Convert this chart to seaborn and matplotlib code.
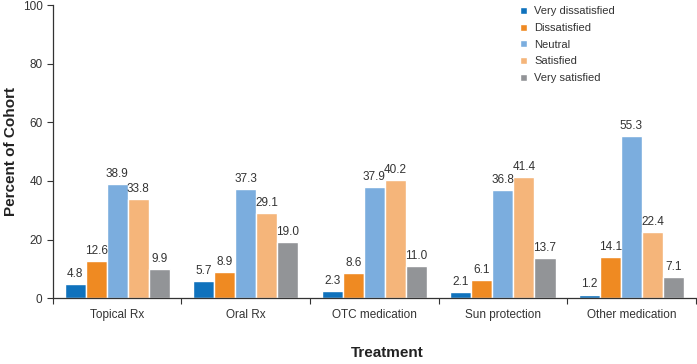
import numpy as np
import pandas as pd
import seaborn as sns
import matplotlib.pyplot as plt
plt.switch_backend('agg')

### data
treatments = ["Topical Rx", "Oral Rx", "OTC medication", "Sun protection", "Other medication"]
levels = ["Very dissatisfied", "Dissatisfied", "Neutral", "Satisfied", "Very satisfied"]
very_dissatisfied = [4.8, 5.7, 2.3, 2.1, 1.2]
dissatisfied = [12.6, 8.9, 8.6, 6.1, 14.1]
neutral = [38.9, 37.3, 37.9, 36.8, 55.3]
satisfied = [33.8, 29.1, 40.2, 41.4, 22.4]
very_satisfied = [9.9, 19.0, 11.0, 13.7, 7.1]
colors = ["#0F72BD", "#EF8A22", "#7BADDE", "#F5B57A", "#929497"]

series = [very_dissatisfied, dissatisfied, neutral, satisfied, very_satisfied]
rows = []
for lev, vals in zip(levels, series):
	for t, v in zip(treatments, vals):
		rows.append({"Treatment": t, "Level": lev, "Percent": v})
df = pd.DataFrame(rows)

sns.set_style("white")
plt.rcParams['font.family'] = ['Liberation Sans', 'DejaVu Sans']

fig = plt.figure(figsize=(6.97, 3.64), dpi=100)
ax = fig.add_axes([0.076, 0.181, 0.922, 0.805])

sns.barplot(data=df, x="Treatment", y="Percent", hue="Level", order=treatments,
	hue_order=levels, palette=colors, width=0.82, gap=0.0, saturation=1,
	errorbar=None, ax=ax, legend=True)

for cont in ax.containers:
	ax.bar_label(cont, fmt="%.1f", padding=3, fontsize=8.5, color="#333333")

ax.set_ylim(0, 100)
ax.set_xlim(-0.5, len(treatments) - 0.5)
ax.set_yticks(np.arange(0, 101, 20))
ax.tick_params(axis='y', which='major', direction='out', length=4, width=0.8,
	left=True, labelsize=8.5, labelcolor="#333333", color="#333333")

# tick marks at group boundaries, labels at centres
ax.set_xticks(np.arange(-0.5, len(treatments), 1.0))
ax.set_xticklabels([])
ax.set_xticks(np.arange(len(treatments)), minor=True)
ax.set_xticklabels(treatments, minor=True)
ax.tick_params(axis='x', which='major', direction='out', length=4, width=0.8,
	bottom=True, color="#333333")
ax.tick_params(axis='x', which='minor', length=0, labelsize=8.5, labelcolor="#333333", pad=8)

for s in ['top', 'right']:
	ax.spines[s].set_visible(False)
for s in ['left', 'bottom']:
	ax.spines[s].set_color("#333333")
	ax.spines[s].set_linewidth(0.9)

ax.set_ylabel("Percent of Cohort", fontsize=11, fontweight='bold', color="#222222")
ax.set_xlabel("Treatment", fontsize=11, fontweight='bold', color="#222222")
ax.yaxis.set_label_coords(-0.054, 0.5)
ax.xaxis.set_label_coords(0.52, -0.163)

leg = ax.legend(loc='upper left', bbox_to_anchor=(0.711, 1.03), frameon=False,
	fontsize=8, handlelength=0.6, handleheight=0.6, handletextpad=0.7,
	labelspacing=0.6, labelcolor="#333333")

plt.savefig("out.png", dpi=100)
plt.close()
